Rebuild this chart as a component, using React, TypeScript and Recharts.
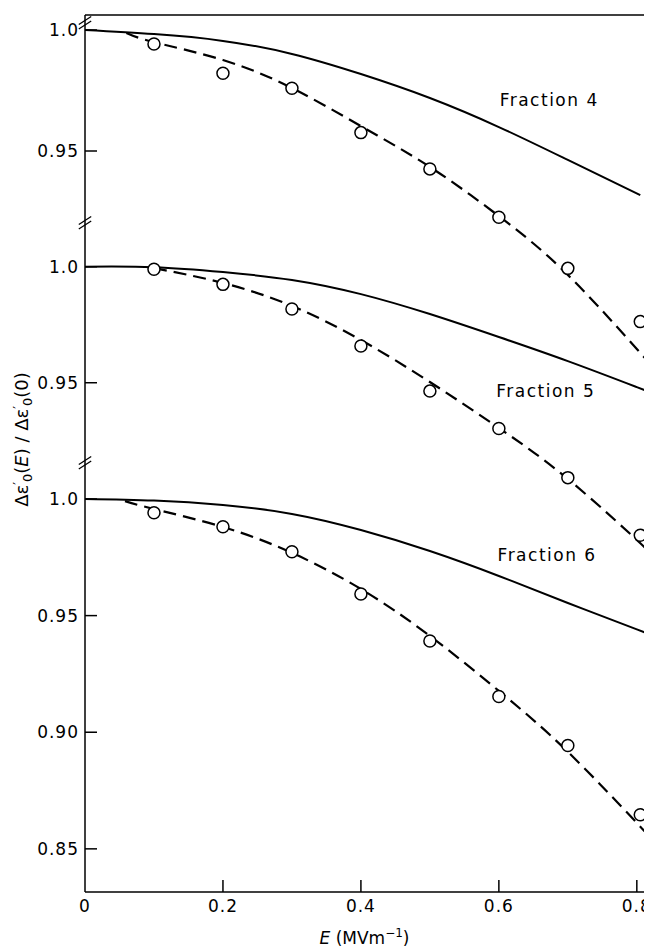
import React from "react";
import { ComposedChart, Line, Scatter, XAxis, YAxis, ReferenceLine, ReferenceDot } from "recharts";

const W = 644;
const H = 939;
const MARGIN = { top: 7, right: 0, bottom: 25, left: 0 };
const FONT = "'DejaVu Sans', sans-serif";

// field strength E (MV/m)
const E_MAX = 0.822;
const X_TICKS = [0, 0.2, 0.4, 0.6, 0.8];
const POINT_E = [0.1, 0.2, 0.3, 0.4, 0.5, 0.6, 0.7, 0.805];

// Fraction 4
const F4_POINTS = [0.9942, 0.9821, 0.9759, 0.9576, 0.9426, 0.9226, 0.9015, 0.8795];
const F4_SOLID_E = [0, 0.1, 0.2, 0.3, 0.4, 0.5, 0.6, 0.7, 0.805];
const F4_SOLID = [1.0, 0.9983, 0.9955, 0.9901, 0.9818, 0.9719, 0.9599, 0.9463, 0.9318];
const F4_DASH_E = [0.06, 0.1, 0.2, 0.3, 0.4, 0.5, 0.6, 0.7, 0.8, 0.811];
const F4_DASH = [0.9988, 0.995, 0.9876, 0.976, 0.9603, 0.9434, 0.9231, 0.8988, 0.8682, 0.8649];

// Fraction 5
const F5_POINTS = [0.9989, 0.9924, 0.9818, 0.9658, 0.9464, 0.9303, 0.9091, 0.8843];
const F5_SOLID_E = [0, 0.1, 0.2, 0.3, 0.4, 0.5, 0.6, 0.7, 0.8, 0.815];
const F5_SOLID = [1.0, 0.9998, 0.9977, 0.9943, 0.9882, 0.9796, 0.9697, 0.9593, 0.9481, 0.9464];
const F5_DASH_E = [0.1, 0.2, 0.3, 0.4, 0.5, 0.6, 0.7, 0.8, 0.813];
const F5_DASH = [0.9994, 0.993, 0.9831, 0.9684, 0.9503, 0.9305, 0.9085, 0.8822, 0.8783];

// Fraction 6
const F6_POINTS = [0.9941, 0.9881, 0.9774, 0.9593, 0.9391, 0.9153, 0.8943, 0.8646];
const F6_SOLID_E = [0, 0.1, 0.2, 0.3, 0.4, 0.5, 0.6, 0.7, 0.8, 0.825];
const F6_SOLID = [1.0, 0.9993, 0.9974, 0.9936, 0.9867, 0.9777, 0.967, 0.9554, 0.9441, 0.9413];
const F6_DASH_E = [0.058, 0.1, 0.2, 0.3, 0.4, 0.5, 0.6, 0.7, 0.8, 0.811];
const F6_DASH = [0.9991, 0.9957, 0.988, 0.9769, 0.9614, 0.9413, 0.9177, 0.8916, 0.8611, 0.8577];

// each panel has its own broken y scale
const P1_DOMAIN = [0.6438, 1.0062];
const P2_DOMAIN = [0.7305, 1.1085];
const P3_DOMAIN = [0.8315, 1.2075];
const P1_TICKS = [0.95, 1.0];
const P2_TICKS = [0.95, 1.0];
const P3_TICKS = [0.85, 0.9, 0.95, 1.0];
const BREAKS = [1.0021, 1.018, 1.0146];

const zip = (xs: number[], ys: number[]) => xs.map((x, i) => ({ x, y: ys[i] }));

function YTick({ x, y, payload }: any) {
  const v = payload.value;
  return (
    <g>
      <line x1={x} y1={y} x2={x + 12} y2={y} stroke="#000" strokeWidth={1.5} />
      <text x={x - 6} y={y} textAnchor="end" dominantBaseline="central" fontSize={17} fontFamily={FONT} letterSpacing={1}>
        {v === 1 ? "1.0" : v.toFixed(2)}
      </text>
    </g>
  );
}

function XTick({ x, y, payload }: any) {
  const v = payload.value;
  return (
    <g>
      {v > 0 && <line x1={x} y1={y} x2={x} y2={y - 12} stroke="#000" strokeWidth={1.5} />}
      <text x={x} y={y + 7} textAnchor="middle" dominantBaseline="hanging" fontSize={17} fontFamily={FONT} letterSpacing={1}>
        {v === 0 ? "0" : v.toFixed(1)}
      </text>
    </g>
  );
}

function YTitle({ viewBox }: any) {
  const cx = viewBox.x + 20;
  const cy = viewBox.y + viewBox.height / 2 - 14;
  return (
    <text x={cx} y={cy} transform={`rotate(-90 ${cx} ${cy})`} textAnchor="middle" fontSize={18} fontFamily={FONT}>
      Δε<tspan dy={-6} fontSize={12}>′</tspan>
      <tspan dy={10} fontSize={13}>0</tspan>
      <tspan dy={-4}>(</tspan>
      <tspan fontStyle="italic">E</tspan>) / Δε<tspan dy={-6} fontSize={12}>′</tspan>
      <tspan dy={10} fontSize={13}>0</tspan>
      <tspan dy={-4}>(0)</tspan>
    </text>
  );
}

function XTitle({ viewBox }: any) {
  const cx = viewBox.x + viewBox.width / 2 - 4;
  const y = viewBox.y + 52;
  return (
    <text x={cx} y={y} textAnchor="middle" fontSize={17} fontFamily={FONT}>
      <tspan fontStyle="italic">E</tspan> (MVm<tspan dy={-7} fontSize={12}>−1</tspan>
      <tspan dy={7}>)</tspan>
    </text>
  );
}

function FracLabel({ viewBox, text }: any) {
  return (
    <text x={viewBox.x} y={viewBox.y} textAnchor="middle" dominantBaseline="central" fontSize={17} fontFamily={FONT} letterSpacing={1.5}>
      {text}
    </text>
  );
}

const Ring = (p: any) => <circle cx={p.cx} cy={p.cy} r={6} fill="#fff" stroke="#000" strokeWidth={1.5} />;

type PanelProps = {
  domain: number[];
  ticks: number[];
  solid: { x: number; y: number }[];
  dashed: { x: number; y: number }[];
  points: { x: number; y: number }[];
  label: string;
  labelAt: number[];
  breakAt: number;
  main?: boolean;
};

function Panel({ domain, ticks, solid, dashed, points, label, labelAt, breakAt, main }: PanelProps) {
  const span = domain[1] - domain[0];
  const d = (span / 877) * 4; // ~4px in data units
  return (
    <ComposedChart width={W} height={H} margin={MARGIN}>
      <XAxis
        type="number"
        dataKey="x"
        domain={[0, E_MAX]}
        allowDataOverflow
        ticks={X_TICKS}
        height={30}
        tickSize={0}
        tickMargin={0}
        tickLine={false}
        axisLine={main ? { stroke: "#000", strokeWidth: 1.5 } : false}
        tick={main ? <XTick /> : false}
        label={main ? <XTitle /> : undefined}
      />
      <YAxis
        type="number"
        domain={domain}
        allowDataOverflow
        ticks={ticks}
        width={77}
        tickSize={0}
        tickMargin={0}
        tickLine={false}
        axisLine={main ? { stroke: "#000", strokeWidth: 1.5 } : false}
        tick={<YTick />}
        label={main ? <YTitle /> : undefined}
      />
      {main && <ReferenceLine y={domain[1]} stroke="#000" strokeWidth={1.5} ifOverflow="visible" />}
      {[0, 1].map((k) => (
        <ReferenceLine
          key={k}
          ifOverflow="visible"
          stroke="#000"
          strokeWidth={1.3}
          segment={[
            { x: -0.009, y: breakAt - d + k * d * 1.1 },
            { x: 0.009, y: breakAt + d + k * d * 1.1 },
          ]}
        />
      ))}
      <Line data={solid} dataKey="y" type="natural" stroke="#000" strokeWidth={2} dot={false} isAnimationActive={false} />
      <Line data={dashed} dataKey="y" type="natural" stroke="#000" strokeWidth={2.2} strokeDasharray="13 7" dot={false} isAnimationActive={false} />
      <Scatter data={points} dataKey="y" shape={Ring} isAnimationActive={false} />
      <ReferenceDot x={labelAt[0]} y={labelAt[1]} r={0} fill="none" stroke="none" ifOverflow="visible" label={<FracLabel text={label} />} />
    </ComposedChart>
  );
}

export default function App() {
  const layer: React.CSSProperties = { position: "absolute", left: 0, top: 0 };
  return (
    <div style={{ position: "relative", width: W, height: H }}>
      <div style={layer}>
        <Panel
          main
          domain={P1_DOMAIN}
          ticks={P1_TICKS}
          solid={zip(F4_SOLID_E, F4_SOLID)}
          dashed={zip(F4_DASH_E, F4_DASH)}
          points={zip(POINT_E, F4_POINTS)}
          label="Fraction 4"
          labelAt={[0.673, 0.9711]}
          breakAt={BREAKS[0]}
        />
      </div>
      <div style={layer}>
        <Panel
          domain={P2_DOMAIN}
          ticks={P2_TICKS}
          solid={zip(F5_SOLID_E, F5_SOLID)}
          dashed={zip(F5_DASH_E, F5_DASH)}
          points={zip(POINT_E, F5_POINTS)}
          label="Fraction 5"
          labelAt={[0.668, 0.9464]}
          breakAt={BREAKS[1]}
        />
      </div>
      <div style={layer}>
        <Panel
          domain={P3_DOMAIN}
          ticks={P3_TICKS}
          solid={zip(F6_SOLID_E, F6_SOLID)}
          dashed={zip(F6_DASH_E, F6_DASH)}
          points={zip(POINT_E, F6_POINTS)}
          label="Fraction 6"
          labelAt={[0.670, 0.976]}
          breakAt={BREAKS[2]}
        />
      </div>
    </div>
  );
}
